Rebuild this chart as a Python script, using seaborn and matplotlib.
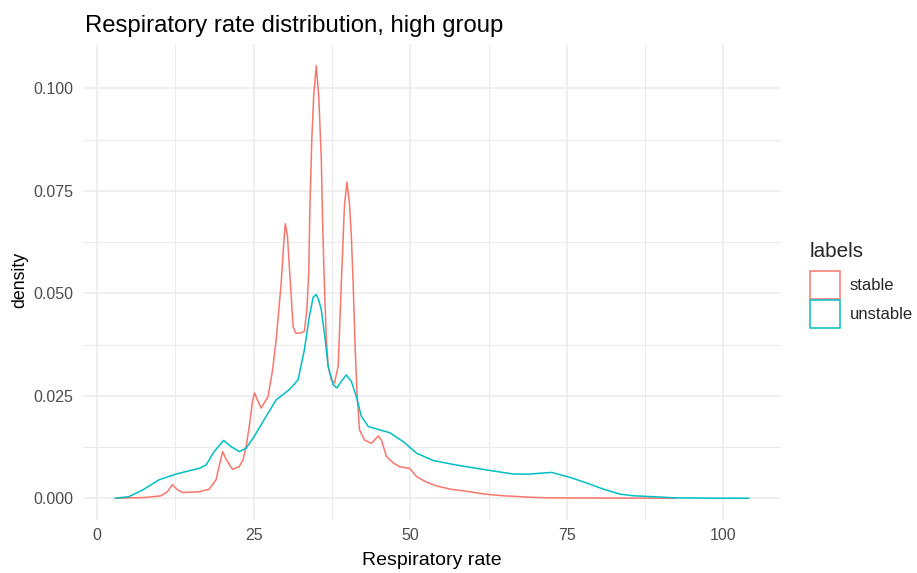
import matplotlib
matplotlib.use("Agg")
import matplotlib.pyplot as plt
from matplotlib.patches import Patch
from matplotlib.ticker import MultipleLocator
import pandas as pd
import seaborn as sns

# Kernel density estimates of respiratory rate, by stability label
stable_rate = [2.9, 5.5, 7.8, 10.2, 11.2, 12.0, 12.9, 13.7, 16.3, 17.9, 19.0, 19.6,
               20.05, 20.6, 21.6, 22.7, 23.3, 23.8, 24.3, 24.8, 25.15, 25.6, 26.2,
               27.3, 28.0, 28.6, 29.4, 29.8, 30.05, 30.4, 30.7, 31.3, 31.7, 32.4,
               33.1, 33.5, 33.8, 34.0, 34.3, 34.6, 35.0, 35.4, 35.8, 36.0, 36.3,
               36.6, 36.9, 37.4, 37.9, 38.5, 39.0, 39.5, 39.9, 40.3, 40.6, 40.9,
               41.2, 41.5, 41.9, 42.7, 43.8, 44.9, 45.4, 46.2, 47.3, 48.3, 49.9,
               51.0, 52.5, 54.2, 56.5, 59.5, 62.0, 64.9, 67.5, 69.1, 72.3, 80.0, 92.3]
stable_density = [0.0000, 0.0001, 0.0002, 0.0006, 0.0015, 0.0033, 0.0020, 0.0014,
                  0.0016, 0.0022, 0.0045, 0.0085, 0.0114, 0.0095, 0.0071, 0.0077,
                  0.0094, 0.0126, 0.0175, 0.0235, 0.0257, 0.0240, 0.0220, 0.0248,
                  0.0310, 0.0387, 0.0525, 0.0620, 0.0670, 0.0640, 0.0566, 0.0419,
                  0.0403, 0.0403, 0.0407, 0.0460, 0.0550, 0.0720, 0.0880, 0.0985,
                  0.1055, 0.0980, 0.0830, 0.0680, 0.0520, 0.0390, 0.0322, 0.0289,
                  0.0281, 0.0322, 0.0525, 0.0713, 0.0771, 0.0720, 0.0640, 0.0520,
                  0.0370, 0.0260, 0.0167, 0.0142, 0.0134, 0.0152, 0.0142, 0.0102,
                  0.0086, 0.0077, 0.0073, 0.0053, 0.0040, 0.0030, 0.0022, 0.0016,
                  0.0010, 0.0006, 0.0004, 0.00025, 0.0001, 0.00005, 0.0000]

unstable_rate = [2.9, 5.1, 7.25, 9.9, 12.6, 16.3, 17.4, 18.7, 20.2, 21.4, 22.7, 23.8,
                 25.1, 27.0, 28.6, 30.7, 32.1, 33.1, 33.9, 34.5, 35.0, 35.4, 35.8,
                 36.3, 36.9, 37.7, 38.3, 39.0, 39.8, 40.6, 41.4, 42.2, 43.3, 45.1,
                 46.7, 48.9, 51.0, 53.7, 57.4, 62.2, 66.5, 69.1, 70.7, 72.6, 75.5,
                 78.2, 80.9, 83.5, 85.7, 88.6, 92.3, 98.0, 104.1]
unstable_density = [0.0000, 0.0004, 0.0020, 0.0045, 0.0059, 0.0073, 0.0081, 0.0114,
                    0.0141, 0.0126, 0.0114, 0.0122, 0.0151, 0.0200, 0.0240, 0.0265,
                    0.0289, 0.0362, 0.0444, 0.0490, 0.0497, 0.0483, 0.0460, 0.0403,
                    0.0322, 0.0277, 0.0269, 0.0285, 0.0301, 0.0285, 0.0248, 0.0200,
                    0.0175, 0.0167, 0.0160, 0.0138, 0.0110, 0.0092, 0.0081, 0.0069,
                    0.0059, 0.0059, 0.0061, 0.0063, 0.0051, 0.0037, 0.0022, 0.0010,
                    0.0006, 0.0004, 0.0001, 0.00003, 0.0000]

group_names = ["stable", "unstable"]
group_colors = ["#F8766D", "#00BFC4"]
x_ticks = [0, 25, 50, 75, 100]
y_ticks = [0.000, 0.025, 0.050, 0.075, 0.100]

df = pd.concat([
    pd.DataFrame({"rate": stable_rate, "density": stable_density, "labels": group_names[0]}),
    pd.DataFrame({"rate": unstable_rate, "density": unstable_density, "labels": group_names[1]}),
], ignore_index=True)

sns.set_theme(style="white")
plt.rcParams["font.family"] = ["Liberation Sans", "DejaVu Sans"]

fig = plt.figure(figsize=(9.17, 5.73), dpi=100)
ax = fig.add_axes([0.0908, 0.0925, 0.7609, 0.8307])

palette = dict(zip(group_names, group_colors))
sns.lineplot(data=df, x="rate", y="density", hue="labels", palette=palette,
             sort=False, estimator=None, linewidth=1.1, ax=ax, legend=False,
             zorder=3)

ax.set_xlim(-2.2, 109.2)
ax.set_ylim(-0.0053, 0.1108)
ax.xaxis.set_minor_locator(MultipleLocator(12.5))
ax.yaxis.set_minor_locator(MultipleLocator(0.0125))
ax.set_xticks(x_ticks)
ax.set_xticklabels([str(v) for v in x_ticks])
ax.set_yticks(y_ticks)
ax.set_yticklabels([f"{v:.3f}" for v in y_ticks])

ax.grid(which="major", color="#EBEBEB", linewidth=1.1, zorder=0)
ax.grid(which="minor", color="#EBEBEB", linewidth=0.8, zorder=0)
ax.set_axisbelow(True)
for s in ax.spines.values():
    s.set_visible(False)
ax.tick_params(which="both", length=0, colors="#4D4D4D", labelsize=11.5)
ax.tick_params(axis="y", pad=7)
ax.tick_params(axis="x", pad=6)

ax.set_xlabel("Respiratory rate", fontsize=14, color="black", labelpad=6)
ax.set_ylabel("density", fontsize=12.8, color="black", labelpad=3)
ax.yaxis.set_label_coords(-0.079, 0.505)
ax.set_title("Respiratory rate distribution, high group", fontsize=17.2,
             loc="left", x=0.003, pad=8.3, color="black")

handles = [Patch(facecolor="none", edgecolor=c, linewidth=1.1, label=n)
           for n, c in zip(group_names, group_colors)]
leg = fig.legend(handles=handles, title="labels", loc="upper left",
                 bbox_to_anchor=(0.8833, 1 - 242 / 573), frameon=False,
                 fontsize=12, title_fontsize=14.9, handlelength=1.8,
                 handleheight=2.2, handletextpad=0.6, labelspacing=0.1,
                 borderpad=0, borderaxespad=0)
leg._legend_box.align = "left"
leg._legend_box.sep = 7

fig.savefig("out.png", dpi=100)
